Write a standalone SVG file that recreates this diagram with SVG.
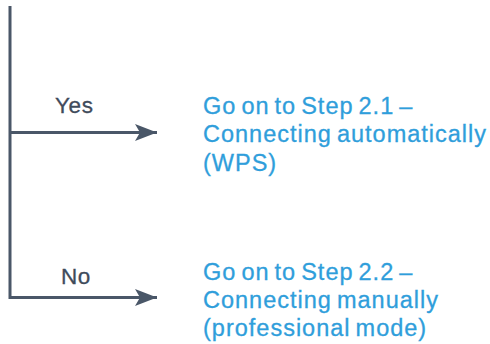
<svg xmlns="http://www.w3.org/2000/svg" width="490" height="344" viewBox="0 0 490 344">
<style>
.ln{fill:none;stroke:#4a5768;stroke-width:3}
.lab{font-family:"Liberation Sans",Arial,sans-serif;font-size:22.5px;fill:#3f4b5b;stroke:#3f4b5b;stroke-width:0.3;letter-spacing:0.6px}
.dest{font-family:"Liberation Sans",Arial,sans-serif;font-size:23.5px;fill:#2f9edb;stroke:#2f9edb;stroke-width:0.3;letter-spacing:1px;word-spacing:-2.5px}
</style>
<defs>
<marker id="ah" markerUnits="userSpaceOnUse" markerWidth="24" markerHeight="20" refX="22" refY="8.5" orient="auto" viewBox="0 0 24 17">
<path d="M0,0 L22,8.5 L0,17 L5,8.5 Z" fill="#4a5768"/>
</marker>
</defs>
<g id="connectors">
<path class="ln" d="M10,6 V297.5 H157" marker-end="url(#ah)"/>
<path class="ln" d="M10,132.5 H157" marker-end="url(#ah)"/>
</g>
<g id="label-yes"><text class="lab" x="55" y="113">Yes</text></g>
<g id="label-no"><text class="lab" x="61" y="284">No</text></g>
<g id="node-wps">
<text class="dest" x="203" y="113.5">Go on to Step 2.1 –</text>
<text class="dest" x="203" y="142">Connecting automatically</text>
<text class="dest" x="203" y="170.5">(WPS)</text>
</g>
<g id="node-manual">
<text class="dest" x="203" y="279.5">Go on to Step 2.2 –</text>
<text class="dest" x="203" y="307.5">Connecting manually</text>
<text class="dest" x="203" y="335.5">(professional mode)</text>
</g>
</svg>
